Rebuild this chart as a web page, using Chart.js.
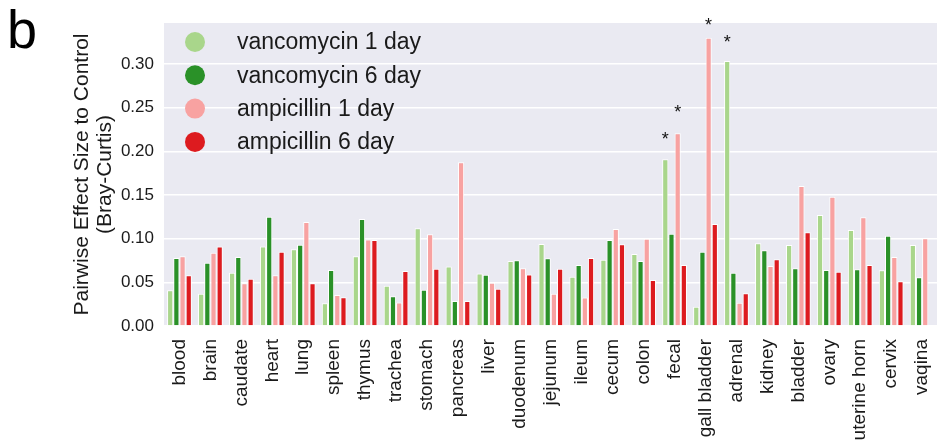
<!DOCTYPE html>
<html>
<head>
<meta charset="utf-8">
<script src="https://cdn.jsdelivr.net/npm/chart.js@4.4.1/dist/chart.umd.min.js"></script>
<style>
  html, body { margin: 0; padding: 0; background: #ffffff; overflow: hidden; }
  #wrap { width: 937px; height: 441px; overflow: hidden; }
</style>
</head>
<body>
<div id="wrap"><canvas id="myChart" width="950" height="441"></canvas></div>
<script>
// tissues on the x axis
const tissues = ['blood', 'brain', 'caudate', 'heart', 'lung', 'spleen', 'thymus', 'trachea', 'stomach',
  'pancreas', 'liver', 'duodenum', 'jejunum', 'ileum', 'cecum', 'colon', 'fecal', 'gall bladder',
  'adrenal', 'kidney', 'bladder', 'ovary', 'uterine horn', 'cervix', 'vaqina'];

const vanco1 = [0.041, 0.037, 0.061, 0.091, 0.088, 0.026, 0.080, 0.046, 0.112, 0.068, 0.060, 0.0745, 0.094,
  0.0565, 0.076, 0.0825, 0.191, 0.022, 0.3035, 0.0947, 0.0928, 0.127, 0.110, 0.0638, 0.0928];
const vanco6 = [0.078, 0.0725, 0.079, 0.125, 0.093, 0.064, 0.1226, 0.034, 0.0416, 0.0286, 0.0588, 0.0752, 0.0775,
  0.070, 0.0985, 0.0745, 0.1057, 0.0851, 0.061, 0.0867, 0.066, 0.064, 0.065, 0.1034, 0.0558];
const ampi1 = [0.080, 0.084, 0.049, 0.058, 0.119, 0.0355, 0.099, 0.027, 0.105, 0.1875, 0.0496, 0.066, 0.037,
  0.0325, 0.111, 0.100, 0.2207, 0.330, 0.0267, 0.0687, 0.1604, 0.148, 0.1245, 0.079, 0.1004];
const ampi6 = [0.058, 0.091, 0.054, 0.085, 0.049, 0.033, 0.0985, 0.063, 0.0657, 0.0286, 0.0427, 0.059, 0.0657,
  0.078, 0.0936, 0.0527, 0.070, 0.1168, 0.0374, 0.0764, 0.1073, 0.062, 0.070, 0.0512, null];

const seriesNames = ['vancomycin 1 day', 'vancomycin 6 day', 'ampicillin 1 day', 'ampicillin 6 day'];
const yTicks = [0, 0.05, 0.10, 0.15, 0.20, 0.25, 0.30];

// significance stars: [series index, tissue, value where the star sits]
const stars = [[0, 'fecal', 0.218], [2, 'fecal', 0.248], [2, 'gall bladder', 0.3486], [0, 'adrenal', 0.3284]];

const colors = ['#a9d68b', '#2a9128', '#f8a2a1', '#dd1b1f'];
const FONT = '"Liberation Sans", Arial, sans-serif';

const ctx = document.getElementById('myChart').getContext('2d');

// grey seaborn-like background behind the bars
const plotBg = {
  id: 'plotBg',
  beforeDraw(chart) {
    const a = chart.chartArea;
    const c = chart.ctx;
    c.save();
    c.fillStyle = '#eaeaf2';
    c.fillRect(a.left, a.top, a.right - a.left, a.bottom - a.top);
    c.restore();
  }
};

const extras = {
  id: 'extras',
  afterDraw(chart) {
    const c = chart.ctx;
    const y = chart.scales.y;
    c.save();
    // stars
    c.fillStyle = '#111';
    c.font = '18px ' + FONT;
    c.textAlign = 'center';
    c.textBaseline = 'middle';
    stars.forEach(function (s) {
      const bar = chart.getDatasetMeta(s[0]).data[tissues.indexOf(s[1])];
      c.fillText('*', bar.x, y.getPixelForValue(s[2]) + 4);
    });
    // legend inside the plot
    c.textAlign = 'left';
    c.font = '23px ' + FONT;
    seriesNames.forEach(function (name, i) {
      const cy = 42 + i * 33.3;
      c.beginPath();
      c.arc(195, cy, 10, 0, Math.PI * 2);
      c.fillStyle = colors[i];
      c.fill();
      c.fillStyle = '#1a1a1a';
      c.fillText(name, 237, cy + 1);
    });
    // panel letter
    c.font = '54px ' + FONT;
    c.textBaseline = 'alphabetic';
    c.fillStyle = '#000';
    c.fillText('b', 7, 48);
    c.restore();
  }
};

let myChart = new Chart(ctx, {
  type: 'bar',
  data: {
    labels: tissues,
    datasets: [vanco1, vanco6, ampi1, ampi6].map(function (d, i) {
      return {
        label: seriesNames[i],
        data: d,
        backgroundColor: colors[i],
        borderColor: '#ffffff',
        borderWidth: 1,
        borderSkipped: 'bottom',
        categoryPercentage: 0.8,
        barPercentage: 1.0
      };
    })
  },
  options: {
    responsive: false,
    animation: false,
    layout: { padding: { top: 23, left: 0, right: 3, bottom: 0 } },
    plugins: {
      legend: { display: false },
      tooltip: { enabled: false }
    },
    scales: {
      x: {
        grid: { display: false },
        border: { display: false },
        ticks: {
          autoSkip: false,
          minRotation: 90,
          maxRotation: 90,
          padding: 5,
          color: '#1a1a1a',
          font: { family: FONT, size: 19 }
        },
        afterFit: function (scale) { scale.height = 115; }
      },
      y: {
        min: 0,
        max: 0.347,
        border: { display: false },
        grid: { color: '#ffffff', lineWidth: 1.5, drawTicks: false },
        afterBuildTicks: function (scale) {
          scale.ticks = yTicks.map(function (v) { return { value: v }; });
        },
        ticks: {
          padding: 10,
          color: '#1a1a1a',
          font: { family: FONT, size: 17 },
          callback: function (v) { return v.toFixed(2); }
        },
        title: {
          display: true,
          text: ['Pairwise Effect Size to Control', '(Bray-Curtis)'],
          color: '#1a1a1a',
          font: { family: FONT, size: 21, lineHeight: 1.12 },
          padding: { top: 70, bottom: 0 }
        },
        afterFit: function (scale) { scale.width = 164; }
      }
    }
  },
  plugins: [plotBg, extras]
});
</script>
</body>
</html>
